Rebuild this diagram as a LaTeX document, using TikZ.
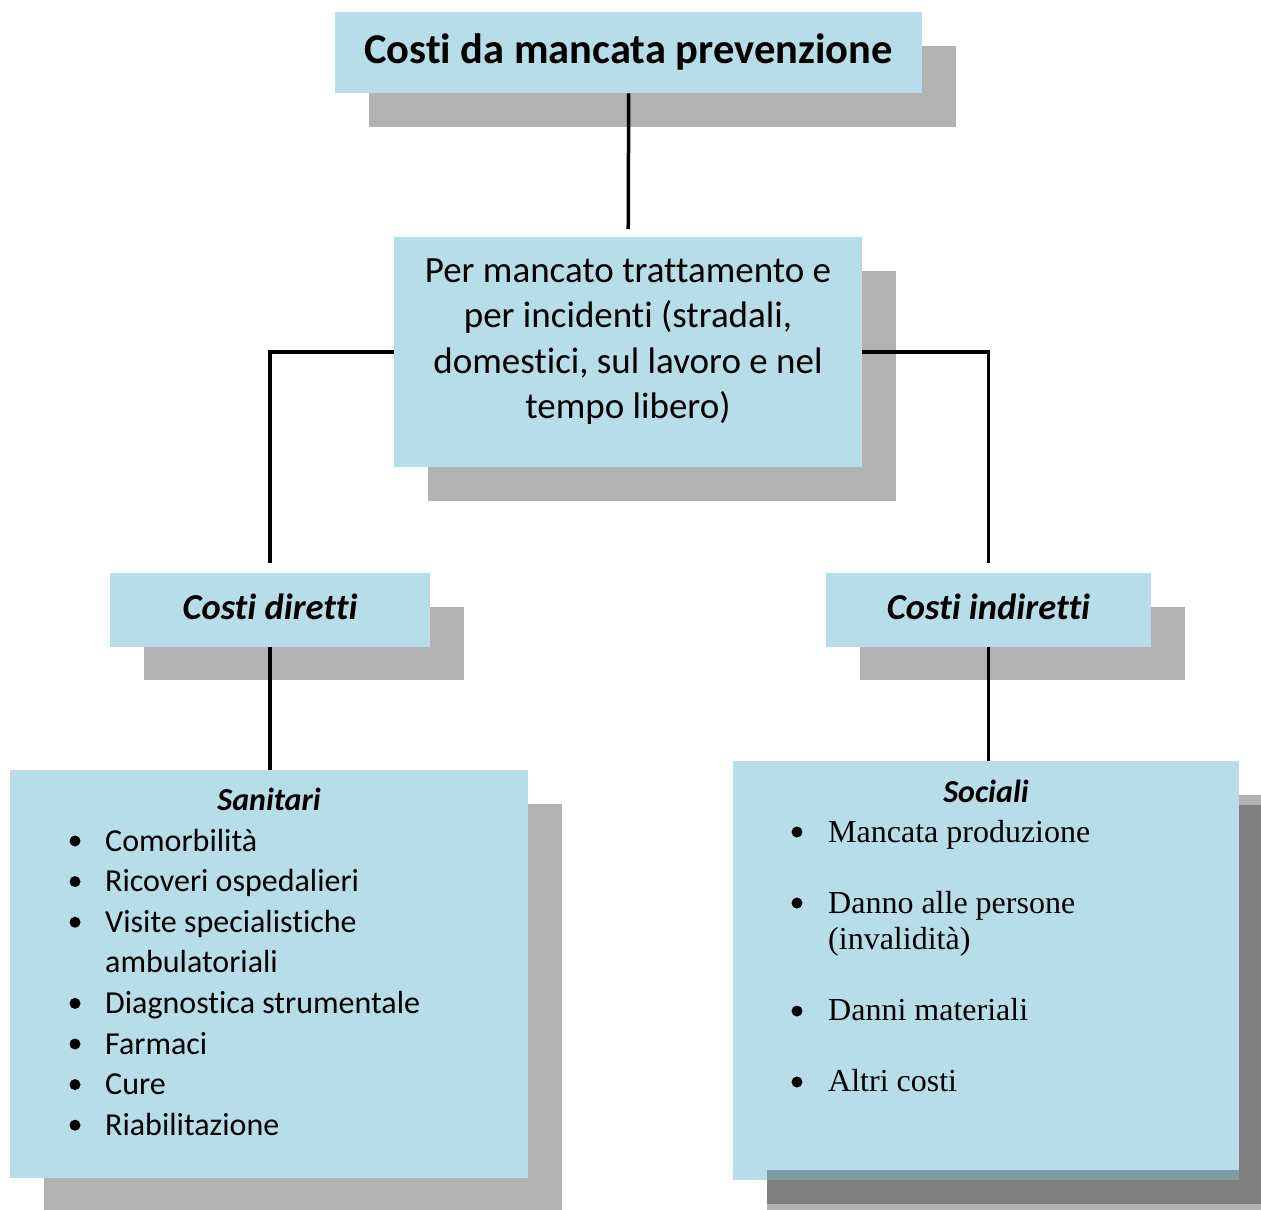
\documentclass[tikz,border=0pt]{standalone}
\usepackage{fontspec}
\setmainfont{Carlito}[Ligatures={TeX,NoCommon}]
\newfontfamily\tnr{Liberation Serif}
\definecolor{boxblue}{HTML}{B7DDE8}
\definecolor{shadowgray}{HTML}{B2B2B2}
\definecolor{darkshadow}{HTML}{808080}
\definecolor{bandblue}{HTML}{809CA3}
\begin{document}
\begin{tikzpicture}[x=1pt,y=-1pt,
  box/.style={fill=boxblue, draw=none, inner sep=0pt, anchor=north west},
  txt/.style={inner sep=0pt, anchor=base},
  conn/.style={line width=3.5pt, black},
  bul/.style={fill=black}]
\useasboundingbox (0,0) rectangle (1261,1210);
% shadows
\fill[shadowgray] (369,46) rectangle (956,127);
\fill[shadowgray] (428,271) rectangle (896,501);
\fill[shadowgray] (144,607) rectangle (464,680);
\fill[shadowgray] (860,607) rectangle (1185,680);
\fill[shadowgray] (44,804) rectangle (562,1210);
\fill[shadowgray] (767,795) rectangle (1261,1210);
\fill[darkshadow] (767,805) rectangle (1261,1204);
% boxes
\node[box, minimum width=587pt, minimum height=81pt] (top) at (335,12) {};
\node[box, minimum width=468pt, minimum height=230pt] (mid) at (394,237) {};
\node[box, minimum width=320pt, minimum height=74pt] (cd) at (110,573) {};
\node[box, minimum width=325pt, minimum height=74pt] (ci) at (826,573) {};
\node[box, minimum width=518pt, minimum height=408pt] (san) at (10,770) {};
\node[box, minimum width=506pt, minimum height=419pt] (soc) at (733,761) {};
\fill[bandblue] (767,1170) rectangle (1239,1180);
% texts
\node[txt, font=\fontsize{42.5}{51}\selectfont\bfseries] (toptext) at (628.5,63) {Costi da mancata prevenzione};
\node[txt] (midtext) at (628,282) {\parbox[t]{460pt}{\centering\fontsize{37}{45.5}\selectfont
  Per mancato trattamento e\\ per incidenti (stradali,\\ domestici, sul lavoro e nel\\ tempo libero)}};
\node[txt, font=\fontsize{36.5}{44}\selectfont\bfseries\itshape] (cdtext) at (270,619) {Costi diretti};
\node[txt, font=\fontsize{36.5}{44}\selectfont\bfseries\itshape] (citext) at (988.5,619) {Costi indiretti};
\node[txt, font=\fontsize{32}{39}\selectfont\bfseries\itshape] (santitle) at (269,810) {Sanitari};
\node[txt, anchor=base west] (sanlist) at (105,851) {\parbox[t]{420pt}{\raggedright\fontsize{32}{40.6}\selectfont
  Comorbilità\\ Ricoveri ospedalieri\\ Visite specialistiche\\ ambulatoriali\\ Diagnostica strumentale\\ Farmaci\\ Cure\\ Riabilitazione}};
\foreach \k in {0,1,2,4,5,6,7} \fill[bul] (75,{841+\k*40.6}) circle[radius=5.5pt];
\node[txt, font=\fontsize{32}{39}\selectfont\bfseries\itshape] (soctitle) at (986,802) {Sociali};
\node[txt, anchor=base west] (soclist) at (828,842) {\parbox[t]{400pt}{\raggedright\tnr\fontsize{32}{35.7}\selectfont
  Mancata produzione\\[35.7pt] Danno alle persone\\ (invalidità)\\[35.7pt] Danni materiali\\[35.7pt] Altri costi}};
\foreach \yy in {832,903,1011,1082} \fill[bul] (797,\yy) circle[radius=5.5pt];
% connectors
\draw[conn, shorten >=8pt] (top.south) -- (mid.north);
\draw[conn, shorten >=10pt] (mid.west) -| (cd.north);
\draw[conn, shorten >=10pt] (mid.east) -| (ci.north);
\draw[conn] (cd.south) -- (cd.south |- san.north);
\draw[conn] (ci.south) -- (ci.south |- soc.north);
\end{tikzpicture}
\end{document}
